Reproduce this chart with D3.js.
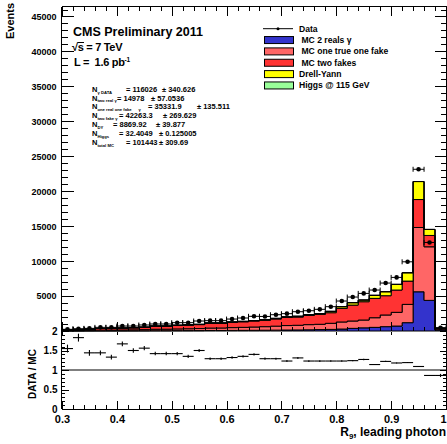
<!DOCTYPE html>
<html>
<head>
<meta charset="utf-8">
<script src="https://cdn.jsdelivr.net/npm/d3@7"></script>
<style>
  body { margin: 0; background: #fff; }
  svg { display: block; font-family: "Liberation Sans", Arial, sans-serif; font-weight: bold; }
  .axis line { stroke: #000; shape-rendering: crispEdges; }
  .axis path { display: none; }
  .axis text { fill: #000; }
</style>
</head>
<body>
<div id="chart"></div>
<script>
"use strict";

// R9 bin edges (35 bins, width 0.02)
var binEdges = [0.30, 0.32, 0.34, 0.36, 0.38, 0.40, 0.42, 0.44, 0.46, 0.48,
  0.50, 0.52, 0.54, 0.56, 0.58, 0.60, 0.62, 0.64, 0.66, 0.68,
  0.70, 0.72, 0.74, 0.76, 0.78, 0.80, 0.82, 0.84, 0.86, 0.88,
  0.90, 0.92, 0.94, 0.96, 0.98, 1.00];

// events per bin
var dataCounts = [240, 330, 380, 520, 520, 710, 710, 860, 1000, 1000,
  1190, 1190, 1430, 1480, 1480, 1710, 1860, 2100, 2080, 2330,
  2480, 2760, 2900, 3100, 3480, 4290, 4860, 5380, 5860, 6860,
  7670, 9900, 23140, 12670, 450];

var mc2Real = [10, 12, 18, 24, 26, 28, 30, 35, 45, 45,
  52, 55, 60, 72, 75, 85, 92, 100, 110, 125,
  140, 150, 170, 200, 230, 280, 380, 450, 520, 620,
  710, 1190, 5610, 4380, 140];

var mcOneFake = [45, 50, 75, 100, 110, 120, 135, 160, 205, 210,
  245, 265, 290, 350, 355, 400, 430, 470, 510, 570,
  640, 670, 740, 760, 870, 1010, 1050, 1120, 1380, 1670,
  1960, 2620, 9200, 7670, 120];

var mcTwoFake = [95, 112, 162, 225, 242, 262, 291, 336, 433, 428,
  498, 527, 566, 680, 670, 755, 796, 862, 917, 1026,
  1158, 1180, 1311, 1420, 1520, 1950, 2280, 2620, 2770, 2760,
  3190, 3330, 4000, 1620, 120];

var mcDY = [5, 6, 9, 12, 13, 15, 17, 20, 26, 26,
  31, 34, 37, 45, 47, 55, 60, 68, 75, 85,
  95, 107, 118, 100, 190, 240, 340, 240, 430, 570,
  810, 1190, 2570, 860, 20];

var mcHiggs = [0, 0, 0, 0, 0, 0, 0, 0, 0, 0,
  0, 0, 0, 0, 0, 0, 0, 0, 0, 0,
  0, 0, 0, 0, 1, 1, 1, 1, 2, 2,
  3, 4, 9, 5, 0];

// DATA / MC per bin
var ratioDataMC = [1.55, 1.83, 1.44, 1.44, 1.33, 1.67, 1.50, 1.56, 1.42, 1.42,
  1.42, 1.35, 1.50, 1.29, 1.29, 1.32, 1.35, 1.40, 1.29, 1.29,
  1.23, 1.31, 1.23, 1.23, 1.23, 1.23, 1.24, 1.27, 1.14, 1.22,
  1.18, 1.19, 1.09, 0.86, 0.86];

var legendLabels = ["Data", " MC 2 reals \u03b3", " MC one true one fake", " MC two fakes", "Drell-Yann", "Higgs @ 115 GeV"];
var stackKeys = ["mc2Real", "mcOneFake", "mcTwoFake", "mcDY", "mcHiggs"];
var stackColors = ["#3333cc", "#ff6666", "#ff3333", "#ffff00", "#99ff99"];

var statSubs = ["\u03b3 DATA", "two real \u03b3", "one real one fake      \u03b3", "two fake \u03b3", "DY", "Higgs", "total MC"];
var statVals = ["116026", "14978", "35331.9", "42263.3", "8869.92", "32.4049", "101443"];
var statErrs = ["340.626", "57.0536", "135.511", "269.629", "39.877", "0.125005", "309.69"];

var topTicks = [5000, 10000, 15000, 20000, 25000, 30000, 35000, 40000, 45000];
var ratioTicks = [0, 0.5, 1, 1.5, 2];
var xTicks = [0.3, 0.4, 0.5, 0.6, 0.7, 0.8, 0.9, 1.0];

function draw() {
  var w = 447, h = 444;
  var left = 61.5, right = 446.5, topY = 6.5, midY = 331, botY = 409;

  var svg = d3.select("#chart").append("svg")
    .attr("width", w).attr("height", h);

  var x = d3.scaleLinear().domain([0.3, 1.0]).range([62, 446]);
  var y = d3.scaleLinear().domain([0, 46430]).range([midY, topY]);
  var yr = d3.scaleLinear().domain([0, 2]).range([botY, midY]);

  // rows for the stack
  var rows = dataCounts.map(function (d, i) {
    return {
      lo: binEdges[i], hi: binEdges[i + 1], data: d, ratio: ratioDataMC[i],
      mc2Real: mc2Real[i], mcOneFake: mcOneFake[i], mcTwoFake: mcTwoFake[i],
      mcDY: mcDY[i], mcHiggs: mcHiggs[i]
    };
  });

  var layers = d3.stack().keys(stackKeys)(rows);

  var area = d3.area()
    .x(function (p) { return x(p.x); })
    .y0(function (p) { return y(p.y0); })
    .y1(function (p) { return y(p.y1); });

  // stacked MC, as step histograms
  svg.append("g").selectAll("path")
    .data(layers)
    .join("path")
    .attr("fill", function (d, i) { return stackColors[i]; })
    .attr("stroke", "#000")
    .attr("stroke-width", 1)
    .attr("d", function (layer) {
      var pts = [];
      layer.forEach(function (s) {
        pts.push({ x: s.data.lo, y0: s[0], y1: s[1] });
        pts.push({ x: s.data.hi, y0: s[0], y1: s[1] });
      });
      return area(pts);
    });

  // data points with error bars
  var dg = svg.append("g").attr("stroke", "#000").attr("stroke-width", 1);
  rows.forEach(function (r) {
    var cx = x((r.lo + r.hi) / 2), cy = y(r.data), e = Math.sqrt(r.data);
    dg.append("line").attr("x1", x(r.lo)).attr("x2", x(r.hi)).attr("y1", cy).attr("y2", cy);
    dg.append("line").attr("x1", x(r.lo)).attr("x2", x(r.lo)).attr("y1", cy - 2.5).attr("y2", cy + 2.5);
    dg.append("line").attr("x1", x(r.hi)).attr("x2", x(r.hi)).attr("y1", cy - 2.5).attr("y2", cy + 2.5);
    dg.append("line").attr("x1", cx).attr("x2", cx).attr("y1", y(r.data - e)).attr("y2", y(r.data + e));
    dg.append("circle").attr("cx", cx).attr("cy", cy).attr("r", 2.3).attr("fill", "#000").attr("stroke", "none");
  });

  // ratio panel
  svg.append("line")
    .attr("x1", 62).attr("x2", 446).attr("y1", yr(1)).attr("y2", yr(1))
    .attr("stroke", "#000").attr("stroke-width", 1.2);

  var rg = svg.append("g").attr("stroke", "#000").attr("stroke-width", 1.1);
  rows.forEach(function (r) {
    var cx = x((r.lo + r.hi) / 2), cy = yr(r.ratio), e = r.ratio / Math.sqrt(r.data);
    rg.append("line").attr("x1", x(r.lo)).attr("x2", x(r.hi)).attr("y1", cy).attr("y2", cy);
    rg.append("line").attr("x1", cx).attr("x2", cx).attr("y1", yr(r.ratio - e)).attr("y2", yr(r.ratio + e));
  });

  // axes, ROOT style ticks pointing inwards
  var minorTop = d3.range(0, 46001, 1000);
  var minorX = d3.range(30, 101, 2).map(function (v) { return v / 100; });
  var minorR = d3.range(0, 21, 1).map(function (v) { return v / 10; });

  function ax(axisFn, scale, vals, len, pos, fmt, pad, fs) {
    var g = svg.append("g").attr("class", "axis").attr("transform", pos)
      .call(axisFn(scale).tickValues(vals).tickSize(-len).tickSizeOuter(0)
        .tickPadding(pad || 3).tickFormat(fmt || ""));
    if (fs) g.selectAll("text").attr("font-size", fs).attr("font-family", "Liberation Sans").attr("font-weight", "bold");
    return g;
  }

  // top pad
  ax(d3.axisLeft, y, topTicks, 12, "translate(" + left + ",0)", d3.format("d"), 5, 9);
  ax(d3.axisLeft, y, minorTop, 6, "translate(" + left + ",0)");
  ax(d3.axisRight, y, topTicks, 12, "translate(" + right + ",0)");
  ax(d3.axisRight, y, minorTop, 6, "translate(" + right + ",0)");
  ax(d3.axisTop, x, xTicks, 9, "translate(0," + topY + ")");
  ax(d3.axisTop, x, minorX, 4, "translate(0," + topY + ")");
  ax(d3.axisBottom, x, xTicks, 9, "translate(0," + midY + ")");
  ax(d3.axisBottom, x, minorX, 4, "translate(0," + midY + ")");

  // ratio pad
  ax(d3.axisLeft, yr, ratioTicks, 7, "translate(" + left + ",0)", function (d) { return d; }, 4, 10);
  ax(d3.axisLeft, yr, minorR, 3.5, "translate(" + left + ",0)");
  ax(d3.axisRight, yr, ratioTicks, 7, "translate(" + right + ",0)");
  ax(d3.axisRight, yr, minorR, 3.5, "translate(" + right + ",0)");
  var xb = ax(d3.axisBottom, x, xTicks, 8, "translate(0," + botY + ")", function (d) { return d; }, 6, 11);
  // last label sits on the canvas edge
  xb.selectAll("text").filter(function (d) { return d === 1; }).attr("text-anchor", "end");
  ax(d3.axisBottom, x, minorX, 4, "translate(0," + botY + ")");
  ax(d3.axisTop, x, xTicks, 3, "translate(0," + (midY + 1) + ")");

  // frames
  function frameLine(x1, y1, x2, y2) {
    svg.append("line").attr("x1", x1).attr("x2", x2).attr("y1", y1).attr("y2", y2)
      .attr("stroke", "#000").attr("shape-rendering", "crispEdges");
  }
  frameLine(left, topY, left, botY);
  frameLine(left, topY, right, topY);
  frameLine(left, botY, right, botY);
  frameLine(right, topY, right, botY);

  // axis titles
  svg.append("text").attr("transform", "translate(14,3) rotate(-90)")
    .attr("text-anchor", "end").attr("font-size", 11).text("Events");
  svg.append("text").attr("transform", "translate(36,374) rotate(-90)")
    .attr("text-anchor", "middle").attr("font-size", 10).text("DATA / MC");
  var xt = svg.append("text").attr("x", 446).attr("y", 436)
    .attr("text-anchor", "end").attr("font-size", 12);
  xt.append("tspan").text("R");
  xt.append("tspan").attr("font-size", 8).attr("dy", 3).text("9");
  xt.append("tspan").attr("dy", -3).text(", leading photon");

  // CMS labels
  svg.append("text").attr("x", 73).attr("y", 36).attr("font-size", 12.5).text("CMS Preliminary 2011");
  svg.append("text").attr("x", 72).attr("y", 51).attr("font-size", 11)
    .attr("letter-spacing", -0.3).attr("xml:space", "preserve").text("\u221as = 7 TeV");
  svg.append("line").attr("x1", 77.5).attr("x2", 84).attr("y1", 42.5).attr("y2", 42.5).attr("stroke", "#000");
  var lum = svg.append("text").attr("x", 74).attr("y", 66).attr("font-size", 11)
    .attr("letter-spacing", -0.3).attr("xml:space", "preserve");
  lum.append("tspan").text("L =  1.6 pb");
  lum.append("tspan").attr("font-size", 6.5).attr("dy", -4.5).text("-1");

  // event counts, with the '=' and '\u00b1' columns placed as in the reference
  var eqX = [126, 117, 148, 119, 113, 119, 126];
  var pmX = [162, 151, 197, 163, 156, 159, 159];
  var st = svg.append("g").attr("font-size", 7.5);
  statSubs.forEach(function (s, i) {
    var t = st.append("text").attr("x", 92).attr("y", 91.7 + i * 8.85).attr("xml:space", "preserve");
    t.append("tspan").text("N");
    t.append("tspan").attr("font-size", 4.2).attr("dy", 1.8).text(s);
    t.append("tspan").attr("x", eqX[i]).attr("dy", -1.8).text("= " + statVals[i]);
    t.append("tspan").attr("x", pmX[i]).text("\u00b1 " + statErrs[i]);
  });

  // legend
  var lg = svg.append("g").attr("font-size", 8.6);
  legendLabels.forEach(function (lab, i) {
    var cy = 28.7 + i * 11.35;
    if (i === 0) {
      lg.append("line").attr("x1", 263).attr("x2", 293).attr("y1", cy).attr("y2", cy).attr("stroke", "#000");
      lg.append("circle").attr("cx", 278).attr("cy", cy).attr("r", 1.5).attr("fill", "#000");
    } else {
      lg.append("rect").attr("x", 264.5).attr("y", cy - 3.5).attr("width", 29).attr("height", 7)
        .attr("fill", stackColors[i - 1]).attr("stroke", "#000");
    }
    lg.append("text").attr("x", 299).attr("y", cy + 3).attr("xml:space", "preserve").text(lab);
  });
}

window.onload = draw;
</script>
</body>
</html>
